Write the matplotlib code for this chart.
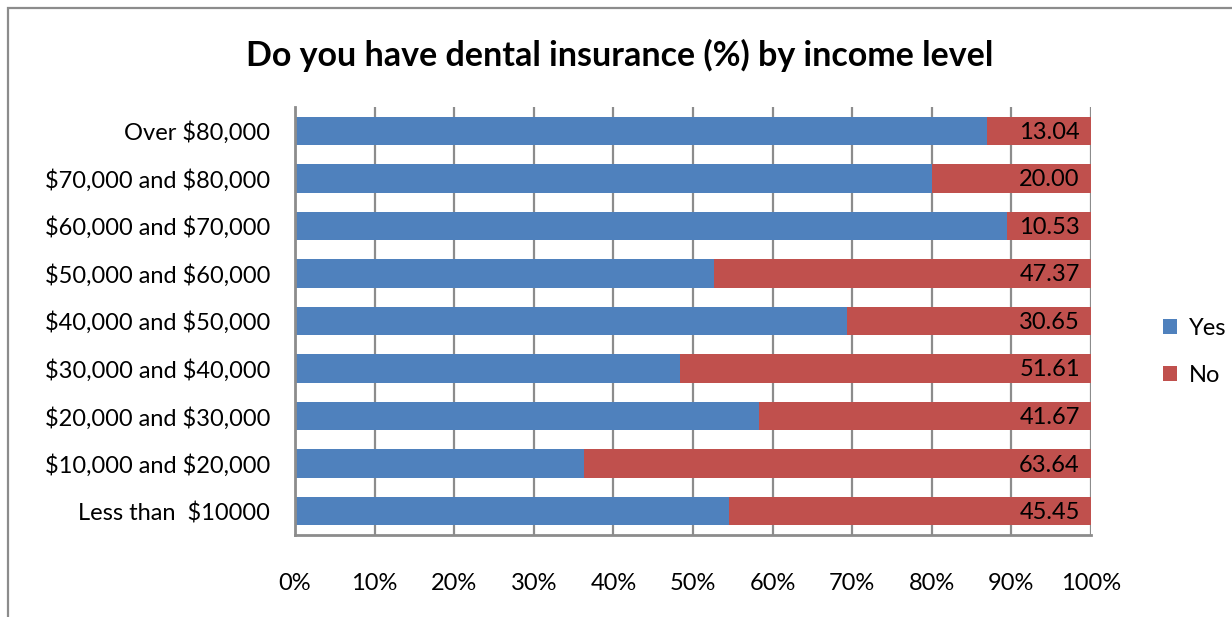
import matplotlib.pyplot as plt
from matplotlib.patches import Rectangle

plt.rcParams['font.family'] = ['Lato', 'DejaVu Sans']
plt.rcParams['text.parse_math'] = False

# income groups, bottom to top
groups = ['Less than  $10000', '$10,000 and $20,000', '$20,000 and $30,000',
          '$30,000 and $40,000', '$40,000 and $50,000', '$50,000 and $60,000',
          '$60,000 and $70,000', '$70,000 and $80,000', 'Over $80,000']
no_pct = [45.45, 63.64, 41.67, 51.61, 30.65, 47.37, 10.53, 20.00, 13.04]
yes_pct = [100 - v for v in no_pct]

blue = '#4F81BD'
red = '#C0504D'
grey = '#8C8C8C'

fig = plt.figure(figsize=(12.32, 6.17), dpi=100)
ax = fig.add_axes([295 / 1232, 82 / 617, 796 / 1232, 428 / 617])

y = range(len(groups))
ax.barh(y, yes_pct, height=0.6, color=blue, label='Yes', zorder=2)
ax.barh(y, no_pct, left=yes_pct, height=0.6, color=red, label='No', zorder=2)

for i, v in enumerate(no_pct):
    ax.text(98.6, i - 0.03, f'{v:.2f}', ha='right', va='center', fontsize=17, zorder=3)

ax.set_xlim(0, 100)
ax.set_ylim(-0.5, len(groups) - 0.5)
ax.set_yticks(list(y))
ax.set_yticklabels(groups, fontsize=17)
ax.set_xticks(range(0, 101, 10))
ax.set_xticklabels([f'{t}%' for t in range(0, 101, 10)], fontsize=17)
ax.tick_params(axis='x', length=0, pad=27)
ax.tick_params(axis='y', length=0, pad=18)
ax.grid(axis='x', color=grey, linewidth=1.6, zorder=1)
ax.set_axisbelow(True)
for s in ['top', 'right']:
    ax.spines[s].set_visible(False)
for s in ['left', 'bottom']:
    ax.spines[s].set_color(grey)
    ax.spines[s].set_linewidth(2)

fig.text(0.5 + 4 / 1232, 1 - 55 / 617, 'Do you have dental insurance (%) by income level',
         ha='center', va='center', fontsize=24.5, fontweight='bold')

fig.legend(loc='center left', bbox_to_anchor=(1163 / 1232, 1 - 352 / 617),
           frameon=False, fontsize=17, handlelength=0.6, handleheight=0.6,
           labelspacing=1.1, handletextpad=0.5, borderpad=0, borderaxespad=0)

# outer chart frame
fig.patches.append(Rectangle((8 / 1232, -0.1), 1.2, (617 - 8) / 617 + 0.1,
                             transform=fig.transFigure, fill=False,
                             edgecolor=grey, linewidth=1.6))

fig.savefig('out.png', dpi=100)
